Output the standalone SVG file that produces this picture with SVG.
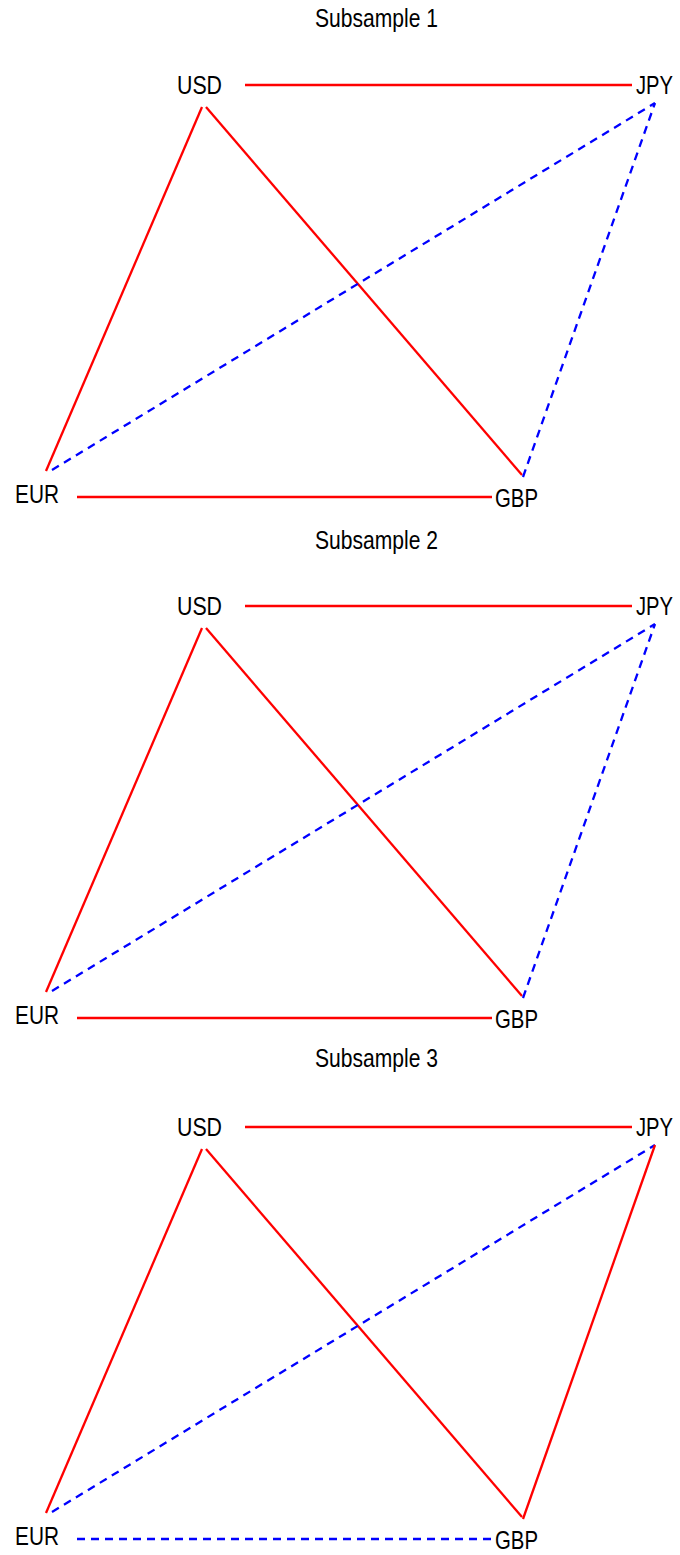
<svg xmlns="http://www.w3.org/2000/svg" width="680" height="1555" viewBox="0 0 680 1555">
<style>
text{font-family:"Liberation Sans",Arial,sans-serif;font-size:25px;fill:#000}
.r{stroke:#ff0000;stroke-width:2.3;fill:none}
.b{stroke:#0000ff;stroke-width:2.3;fill:none;stroke-dasharray:8,6}
</style>
<rect width="680" height="1555" fill="#fff"/>
<defs>
<g id="labels">
<text x="177" y="94" textLength="45" lengthAdjust="spacingAndGlyphs">USD</text>
<text x="636" y="94" textLength="37" lengthAdjust="spacingAndGlyphs">JPY</text>
<text x="15" y="503" textLength="44" lengthAdjust="spacingAndGlyphs">EUR</text>
<text x="495" y="507" textLength="43" lengthAdjust="spacingAndGlyphs">GBP</text>
</g>
</defs>
<g id="titles">
<text x="315" y="27" textLength="123" lengthAdjust="spacingAndGlyphs">Subsample 1</text>
<text x="315" y="549" textLength="123" lengthAdjust="spacingAndGlyphs">Subsample 2</text>
<text x="315" y="1067" textLength="123" lengthAdjust="spacingAndGlyphs">Subsample 3</text>
</g>
<g id="panel1">
<g id="p1-nodes"><use href="#labels"/></g>
<g id="p1-connectors">
<line class="r" x1="245" y1="85" x2="632" y2="85"/>
<line class="r" x1="202" y1="107" x2="46" y2="471"/>
<line class="r" x1="206" y1="107" x2="522" y2="475"/>
<line class="b" x1="52" y1="470" x2="655" y2="103"/>
<line class="b" x1="523" y1="477" x2="655" y2="103"/>
<line class="r" x1="77" y1="497" x2="492" y2="497"/>
</g>
</g>
<g id="panel2" transform="translate(0,521)">
<g id="p2-nodes"><use href="#labels"/></g>
<g id="p2-connectors">
<line class="r" x1="245" y1="85" x2="632" y2="85"/>
<line class="r" x1="202" y1="107" x2="46" y2="471"/>
<line class="r" x1="206" y1="107" x2="522" y2="475"/>
<line class="b" x1="52" y1="470" x2="655" y2="103"/>
<line class="b" x1="523" y1="477" x2="655" y2="103"/>
<line class="r" x1="77" y1="497" x2="492" y2="497"/>
</g>
</g>
<g id="panel3" transform="translate(0,1042)">
<g id="p3-nodes"><use href="#labels"/></g>
<g id="p3-connectors">
<line class="r" x1="245" y1="85" x2="632" y2="85"/>
<line class="r" x1="202" y1="107" x2="46" y2="471"/>
<line class="r" x1="206" y1="107" x2="522" y2="475"/>
<line class="b" x1="52" y1="470" x2="655" y2="103"/>
<line class="r" x1="523" y1="477" x2="655" y2="103"/>
<line class="b" x1="77" y1="497" x2="492" y2="497"/>
</g>
</g>
</svg>
